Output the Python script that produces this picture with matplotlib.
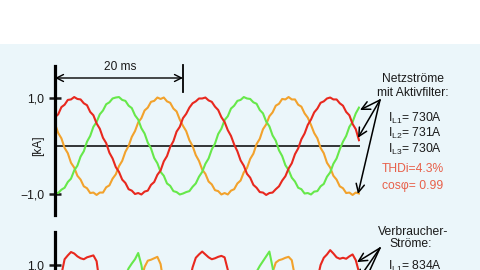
import numpy as np
import matplotlib
matplotlib.use("Agg")
import matplotlib.pyplot as plt
from matplotlib.patches import Rectangle
import matplotlib.transforms as mtransforms

plt.rcParams['font.family'] = ['Liberation Sans', 'DejaVu Sans']
plt.rcParams['mathtext.fontset'] = 'custom'
plt.rcParams['mathtext.rm'] = 'Liberation Sans'
plt.rcParams['mathtext.it'] = 'Liberation Sans'

# ---- data (kA), sampled every 0.5 ms ----
step_ms = 0.5

grid_red = [
    0.60, 0.66, 0.81, 0.86, 0.96, 0.97, 1.02, 0.98, 0.97, 0.89, 0.85, 0.71, 0.64, 0.47, 0.36, 0.17, 0.06, -0.14, -0.26, -0.44,
    -0.54, -0.70, -0.77, -0.90, -0.93, -1.00, -0.98, -1.01, -0.95, -0.93, -0.81, -0.75, -0.60, -0.51, -0.32, -0.21, -0.02, 0.10, 0.30, 0.40,
    0.58, 0.67, 0.80, 0.89, 0.93, 0.99, 0.99, 1.01, 0.95, 0.92, 0.82, 0.75, 0.60, 0.50, 0.33, 0.21, 0.03, -0.11, -0.30, -0.41,
    -0.58, -0.66, -0.81, -0.87, -0.96, -0.97, -1.02, -0.98, -0.97, -0.90, -0.84, -0.72, -0.63, -0.47, -0.36, -0.17, -0.05, 0.14, 0.26, 0.44,
    0.55, 0.70, 0.78, 0.90, 0.93, 0.99, 1.01, 0.97, 0.97, 0.89, 0.84, 0.71, 0.64, 0.46, 0.35, 0.12]

grid_green = [
    -0.97, -0.98, -0.91, -0.87, -0.75, -0.68, -0.51, -0.41, -0.22, -0.11, 0.09, 0.21, 0.40, 0.50, 0.66, 0.74, 0.87, 0.91, 0.99, 1.01,
    1.02, 0.96, 0.94, 0.84, 0.79, 0.64, 0.55, 0.37, 0.26, 0.07, -0.05, -0.25, -0.36, -0.54, -0.62, -0.78, -0.83, -0.94, -0.96, -1.01,
    -0.99, -0.96, -0.94, -0.85, -0.78, -0.64, -0.54, -0.37, -0.26, -0.07, 0.05, 0.25, 0.36, 0.54, 0.62, 0.78, 0.84, 0.94, 0.96, 1.02,
    0.99, 0.98, 0.91, 0.88, 0.75, 0.68, 0.51, 0.41, 0.22, 0.11, -0.09, -0.21, -0.40, -0.50, -0.66, -0.74, -0.87, -0.90, -0.99, -0.98,
    -1.01, -0.95, -0.94, -0.84, -0.79, -0.64, -0.55, -0.37, -0.26, -0.07, 0.09, 0.21, 0.40, 0.50, 0.68, 0.80]

grid_orange = [
    0.46, 0.27, 0.16, -0.04, -0.15, -0.35, -0.45, -0.62, -0.70, -0.84, -0.88, -0.98, -0.97, -1.02, -0.97, -0.97, -0.86, -0.82, -0.68, -0.59,
    -0.42, -0.31, -0.12, 0.00, 0.19, 0.31, 0.49, 0.58, 0.74, 0.80, 0.92, 0.94, 1.01, 0.98, 1.01, 0.93, 0.90, 0.78, 0.72, 0.55,
    0.42, 0.31, 0.12, 0.00, -0.19, -0.31, -0.49, -0.58, -0.74, -0.80, -0.92, -0.94, -1.01, -0.98, -1.01, -0.93, -0.90, -0.78, -0.72, -0.55,
    -0.46, -0.27, -0.16, 0.04, 0.15, 0.35, 0.45, 0.62, 0.70, 0.84, 0.88, 0.98, 0.97, 1.02, 0.97, 0.97, 0.86, 0.82, 0.68, 0.59,
    0.44, 0.27, 0.16, -0.04, -0.15, -0.35, -0.45, -0.62, -0.70, -0.84, -0.88, -0.98, -0.97, -1.02, -0.97, -0.99]

load_red = [
    0.30, 0.50, 0.80, 1.12, 1.20, 1.27, 1.24, 1.18, 1.14, 1.12, 1.16, 1.18, 1.20, 1.08, 0.60, 0.40, 0.30, 0.20, 0.00, -0.20,
    -0.30, -0.50, -0.80, -1.10, -1.20, -1.27, -1.22, -1.15, -1.12, -1.14, -1.17, -1.19, -1.18, -1.05, -0.60, -0.40, -0.30, -0.20, 0.00, 0.20,
    0.30, 0.45, 0.65, 0.95, 1.15, 1.22, 1.28, 1.22, 1.16, 1.12, 1.14, 1.17, 1.19, 1.16, 0.90, 0.50, 0.35, 0.20, 0.00, -0.20,
    -0.30, -0.50, -0.80, -1.10, -1.20, -1.27, -1.22, -1.15, -1.12, -1.14, -1.17, -1.19, -1.18, -1.05, -0.60, -0.40, -0.30, -0.20, 0.00, 0.20,
    0.30, 0.45, 0.70, 1.00, 1.15, 1.22, 1.31, 1.24, 1.16, 1.13, 1.15, 1.13, 1.18, 1.22, 1.10, 0.85]

load_green = [
    -0.90, -1.10, -1.20, -1.25, -1.20, -1.10, -0.80, -0.50, -0.30, -0.20, -0.10, 0.00, 0.10, 0.20, 0.30, 0.30, 0.35, 0.40, 0.45, 0.50,
    0.55, 0.65, 0.78, 0.93, 1.03, 1.12, 1.25, 1.00, 0.60, 0.40, 0.30, 0.20, 0.10, 0.00, -0.20, -0.40, -0.60, -0.70, -0.80, -0.85,
    -0.90, -1.10, -1.20, -1.25, -1.20, -1.10, -0.80, -0.50, -0.30, -0.20, -0.10, 0.00, 0.10, 0.20, 0.30, 0.30, 0.35, 0.40, 0.45, 0.50,
    0.55, 0.62, 0.72, 0.86, 0.98, 1.08, 1.18, 1.28, 0.95, 0.55, 0.30, 0.20, 0.10, 0.00, -0.20, -0.40, -0.60, -0.70, -0.80, -0.85,
    -0.90, -1.10, -1.20, -1.25, -1.20, -1.10, -0.80, -0.50, -0.30, -0.20, -0.10, 0.00, 0.10, 0.20, 0.30, 0.30]

load_orange = [
    0.30, 0.20, 0.10, 0.00, -0.10, -0.20, -0.40, -0.70, -1.00, -1.10, -1.12, -1.15, -1.17, -1.00, -0.60, -0.40, -0.30, -0.20, -0.10, 0.00,
    0.10, 0.20, 0.30, 0.35, 0.40, 0.45, 0.55, 0.70, 0.96, 1.09, 1.11, 1.14, 1.17, 1.02, 0.60, 0.45, 0.40, 0.35, 0.30, 0.30,
    0.30, 0.20, 0.10, 0.00, -0.10, -0.20, -0.40, -0.70, -1.00, -1.10, -1.12, -1.15, -1.17, -1.00, -0.60, -0.40, -0.30, -0.20, -0.10, 0.00,
    0.10, 0.20, 0.30, 0.35, 0.40, 0.45, 0.55, 0.65, 0.85, 1.05, 1.10, 1.12, 1.15, 1.17, 1.10, 0.75, 0.60, 0.45, 0.40, 0.35,
    0.30, 0.20, 0.10, 0.00, -0.10, -0.20, -0.40, -0.70, -1.00, -1.10, -1.12, -1.15, -1.17, -1.00, -0.60, -0.40]

y_ticks = [-1.0, 1.0]
y_ticklabels = ['\u22121,0', '1,0']

grid_labels = ['Netzstr\u00f6me', 'mit Aktivfilter:']
grid_values = [r'I$_{\rm L1}$= 730A', r'I$_{\rm L2}$= 731A', r'I$_{\rm L3}$= 730A']
grid_quality = ['THDi=4.3%', 'cos\u03c6= 0.99']
load_labels = ['Verbraucher-', 'Str\u00f6me:']
load_values = [r'I$_{\rm L1}$= 834A']

C_RED = '#E8281E'
C_GREEN = '#66E84A'
C_ORANGE = '#F2A22C'
C_TEXTRED = '#E8604A'
BG = '#EBF6FA'

W, H = 480, 270
fig = plt.figure(figsize=(4.8, 2.7), dpi=100, facecolor=BG)
fig.patches.append(Rectangle((0, 1 - 44 / H), 1, 44 / H, transform=fig.transFigure,
                             facecolor='white', edgecolor='none', zorder=0))

def px_axes(x0, y_top, w, h):
    return fig.add_axes([x0 / W, 1 - (y_top + h) / H, w / W, h / H])

t_end = 47.66
# top axes: 1.0 -> y=98, 0 -> 146, 48 px per kA, spine from y=66 to 215
ax1 = px_axes(55, 66, 305, 149)
ax1.set_ylim(-(215 - 146) / 48, (146 - 66) / 48)
# bottom axes: 1.0 -> y=265, top at 232
ax2 = px_axes(55, 232, 305, 153)
ax2.set_ylim(1 - (385 - 265) / 48, 1 + (265 - 232) / 48)

for ax in (ax1, ax2):
    ax.set_xlim(0, t_end)
    ax.set_facecolor('none')
    for s in ('top', 'right', 'bottom'):
        ax.spines[s].set_visible(False)
    ax.spines['left'].set_linewidth(2.3)
    ax.spines['left'].set_color('black')
    ax.set_xticks([])
    ax.set_yticks(y_ticks)
    ax.set_yticklabels(y_ticklabels)
    ax.tick_params(axis='y', direction='inout', length=9, width=1.8, pad=3,
                   labelsize=8.8, colors='#1a1a1a')

t = np.arange(len(grid_red)) * step_ms
for ax, series in ((ax1, (grid_orange, grid_green, grid_red)),
                   (ax2, (load_orange, load_green, load_red))):
    for vals, c in zip(series, (C_ORANGE, C_GREEN, C_RED)):
        ax.plot(t, vals, color=c, lw=1.5, solid_joinstyle='round')

ax1.axhline(0, color='black', lw=1.1, zorder=1)

# 20 ms period marker
y_arrow = (146 - 78) / 48
ax1.annotate('', xy=(20, y_arrow), xytext=(0, y_arrow),
             arrowprops=dict(arrowstyle='<->,head_length=0.5,head_width=0.25',
                             lw=1.0, color='black', shrinkA=0, shrinkB=0),
             annotation_clip=False)
ax1.plot([20, 20], [(146 - 92) / 48, (146 - 65) / 48], color='black', lw=1.3, clip_on=False)
ax1.text(10.2, (146 - 67) / 48, '20 ms', ha='center', va='center', fontsize=8.6, color='#1a1a1a')

trans = mtransforms.blended_transform_factory(ax1.transAxes, ax1.transData)
ax1.text(-17 / 305, 0, '[kA]', transform=trans, rotation=90, ha='center', va='center',
         fontsize=8.6, color='#1a1a1a')

def ftext(x, y, s, color='#1a1a1a', size=8.7):
    fig.text(x / W, 1 - y / H, s, ha='center', va='center', fontsize=size, color=color)

ftext(413, 79, grid_labels[0])
ftext(413, 93, grid_labels[1])
for s, y in zip(grid_values, (118, 133, 149)):
    ftext(415, y, s)
for s, y in zip(grid_quality, (169, 186)):
    ftext(413, y, s, color=C_TEXTRED)
ftext(413, 232, load_labels[0])
ftext(411, 244, load_labels[1])
ftext(415, 266, load_values[0])

arw = dict(arrowstyle='->,head_length=0.6,head_width=0.3', lw=1.1, color='black', shrinkA=0, shrinkB=0)
for xy in ((47.66, 0.75), (47.34, 0.17), (47.34, -1.0)):
    ax1.annotate('', xy=xy, xycoords='data', xytext=(380, H - 100), textcoords='figure pixels',
                 arrowprops=arw, annotation_clip=False)
for xy in ((47.2, 1.06), (47.34, 0.69), (47.34, 0.35)):
    ax2.annotate('', xy=xy, xycoords='data', xytext=(380, H - 248), textcoords='figure pixels',
                 arrowprops=arw, annotation_clip=False)

fig.savefig('out.png', dpi=100, facecolor=BG)
